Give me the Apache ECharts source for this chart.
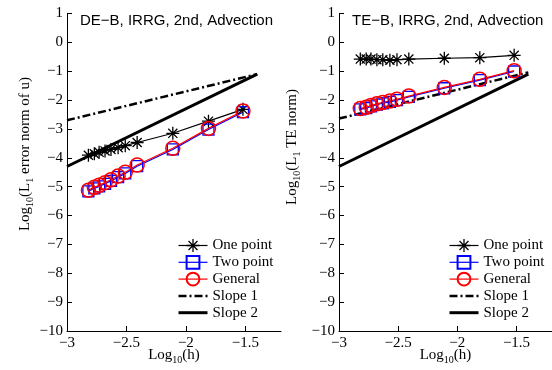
<!DOCTYPE html>
<html><head><meta charset="utf-8">
<script src="https://cdn.jsdelivr.net/npm/echarts@6/dist/echarts.min.js"></script>
<style>html,body{margin:0;padding:0;background:#fff}#c{width:552px;height:370px}</style>
</head><body><div id="c"></div>
<script>
// ---- data ----
const logH = [-2.82, -2.77, -2.73, -2.68, -2.63, -2.57, -2.51, -2.41, -2.11, -1.81, -1.52];
const deOnePoint = [-3.91, -3.86, -3.81, -3.76, -3.71, -3.65, -3.58, -3.47, -3.15, -2.73, -2.32];
const deTwoPoint = [-5.16, -5.06, -4.99, -4.90, -4.80, -4.67, -4.54, -4.29, -3.71, -3.02, -2.42];
const deGeneral  = [-5.12, -5.02, -4.95, -4.86, -4.76, -4.63, -4.50, -4.25, -3.67, -2.98, -2.38];
const teOnePoint = [-0.58, -0.58, -0.58, -0.60, -0.60, -0.62, -0.60, -0.58, -0.55, -0.53, -0.45];
const teTwoPoint = [-2.32, -2.28, -2.22, -2.16, -2.11, -2.06, -2.00, -1.89, -1.59, -1.31, -1.01];
const teGeneral  = [-2.29, -2.25, -2.19, -2.13, -2.08, -2.03, -1.97, -1.86, -1.56, -1.28, -0.98];
const slopeX   = [-3, -1.4];
const deSlope1 = [-2.70, -1.10];
const deSlope2 = [-4.30, -1.10];
const teSlope1 = [-2.64, -1.04];
const teSlope2 = [-4.30, -1.10];
const xTicks = [-3, -2.5, -2, -1.5];
const legendNames = ['One point', 'Two point', 'General', 'Slope 1', 'Slope 2'];
const titles = ['DE\u2212B, IRRG, 2nd, Advection', 'TE\u2212B, IRRG, 2nd, Advection'];

// ---- build ----
const SERIF = 'Liberation Serif';
const SANS = 'Liberation Sans';
const STAR = 'path://M0,9L20,9L20,11L0,11Z M9,0L11,0L11,20L9,20Z M2.3,3.7L3.7,2.3L17.7,16.3L16.3,17.7Z M16.3,2.3L17.7,3.7L3.7,17.7L2.3,16.3Z';
const CLEAR = 'rgba(0,0,0,0)';
const pairs = (xs, ys) => xs.map((x, i) => [x, ys[i]]);
const minus = v => String(v).replace('-', '\u2212');

function panelSeries(idx, one, two, gen, s1, s2) {
  const base = {type: 'line', xAxisIndex: idx, yAxisIndex: idx, animation: false, silent: true, emphasis: {disabled: true}};
  return [
    Object.assign({}, base, {name: 'Slope 1', data: pairs(slopeX, s1), symbol: 'circle', showSymbol: false, symbolSize: 0,
      lineStyle: {color: '#000', width: 2.5, type: [8, 3, 2, 3]}, itemStyle: {color: CLEAR, borderColor: CLEAR, borderWidth: 0}}),
    Object.assign({}, base, {name: 'Slope 2', data: pairs(slopeX, s2), symbol: 'circle', showSymbol: false, symbolSize: 0,
      lineStyle: {color: '#000', width: 3}, itemStyle: {color: CLEAR, borderColor: CLEAR, borderWidth: 0}}),
    Object.assign({}, base, {name: 'One point', data: pairs(logH, one), symbol: STAR, symbolSize: 13,
      lineStyle: {color: '#000', width: 1.2}, itemStyle: {color: '#000'}}),
    Object.assign({}, base, {name: 'Two point', data: pairs(logH, two), symbol: 'rect', symbolSize: 11,
      lineStyle: {color: '#0000ff', width: 1.2}, itemStyle: {color: CLEAR, borderColor: '#0000ff', borderWidth: 1.3}}),
    Object.assign({}, base, {name: 'General', data: pairs(logH, gen), symbol: 'circle', symbolSize: 14,
      lineStyle: {color: '#ff0000', width: 1.2}, itemStyle: {color: CLEAR, borderColor: '#ff0000', borderWidth: 1.5}})
  ];
}

const grids = [
  {left: 67, top: 13.5, width: 214, height: 317.5, containLabel: false, outerBoundsMode: 'none'},
  {left: 339, top: 13.5, width: 213, height: 317.5, containLabel: false, outerBoundsMode: 'none'}
];
const subRich = {s: {fontFamily: SERIF, fontSize: 10, lineHeight: 10, verticalAlign: 'bottom', color: '#000'}};

const xAxes = grids.map((g, i) => ({
  type: 'value', gridIndex: i, min: -3, max: -1.2,
  name: 'Log{s|10}(h)', nameLocation: 'middle', nameGap: 14, nameMoveOverlap: false,
  nameTextStyle: {fontFamily: SERIF, fontSize: 15, color: '#000', lineHeight: 20, rich: subRich},
  axisLine: {show: true, onZero: false, lineStyle: {color: '#000', width: 1}},
  axisTick: {show: true, inside: true, length: 5, customValues: xTicks, lineStyle: {color: '#000'}},
  axisLabel: {show: true, customValues: xTicks, margin: 5, fontFamily: SERIF, fontSize: 15, color: '#000', formatter: minus},
  splitLine: {show: false}
}));
const yAxes = grids.map((g, i) => ({
  type: 'value', gridIndex: i, min: -10, max: 1, interval: 1,
  axisLine: {show: true, onZero: false, lineStyle: {color: '#000', width: 1}},
  axisTick: {show: true, inside: true, length: 5, lineStyle: {color: '#000'}},
  axisLabel: {show: true, margin: 4, fontFamily: SERIF, fontSize: 15, color: '#000', formatter: minus},
  splitLine: {show: false}
}));

const legendBase = {
  data: legendNames, orient: 'vertical', top: 238, padding: 0,
  itemWidth: 29, itemHeight: 16, itemGap: 1.8, selectedMode: false,
  lineStyle: {width: 'inherit'},
  textStyle: {fontFamily: SERIF, fontSize: 15, color: '#000'}
};

const yNameStyle = {fontFamily: SERIF, fontSize: 15, lineHeight: 20, fill: '#000', align: 'center', verticalAlign: 'middle', rich: subRich};

const option = {
  backgroundColor: '#fff',
  animation: false,
  grid: grids,
  xAxis: xAxes,
  yAxis: yAxes,
  legend: [Object.assign({}, legendBase, {left: 177}), Object.assign({}, legendBase, {left: 448})],
  series: [].concat(
    panelSeries(0, deOnePoint, deTwoPoint, deGeneral, deSlope1, deSlope2),
    panelSeries(1, teOnePoint, teTwoPoint, teGeneral, teSlope1, teSlope2)
  ),
  graphic: [
    {type: 'text', x: 80, y: 21, silent: true, style: {text: titles[0], fontFamily: SANS, fontSize: 15, fill: '#000', align: 'left', verticalAlign: 'middle'}},
    {type: 'text', x: 352, y: 21, silent: true, style: {text: titles[1], fontFamily: SANS, fontSize: 15, fill: '#000', align: 'left', verticalAlign: 'middle'}},
    {type: 'text', x: 25, y: 154, rotation: Math.PI / 2, silent: true, style: Object.assign({text: 'Log{s|10}(L{s|1} error norm of u)'}, yNameStyle)},
    {type: 'text', x: 292, y: 147, rotation: Math.PI / 2, silent: true, style: Object.assign({text: 'Log{s|10}(L{s|1} TE norm)'}, yNameStyle)}
  ]
};

const chart = echarts.init(document.getElementById('c'), null, {renderer: 'canvas'});
chart.setOption(option);
</script>
</body></html>
